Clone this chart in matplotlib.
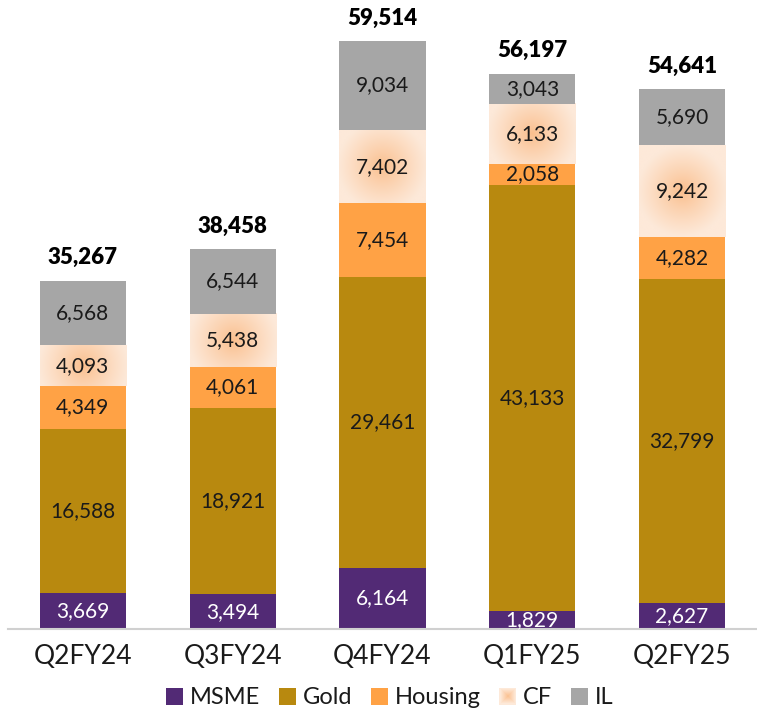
import numpy as np
import matplotlib
matplotlib.use("Agg")
from matplotlib import pyplot as plt
from matplotlib.patches import Rectangle, Patch
from matplotlib.legend_handler import HandlerPatch

plt.rcParams['font.family'] = ['Lato', 'DejaVu Sans']

quarters = ['Q2FY24', 'Q3FY24', 'Q4FY24', 'Q1FY25', 'Q2FY25']
msme = [3669, 3494, 6164, 1829, 2627]
gold = [16588, 18921, 29461, 43133, 32799]
housing = [4349, 4061, 7454, 2058, 4282]
cf = [4093, 5438, 7402, 6133, 9242]
il = [6568, 6544, 9034, 3043, 5690]
totals = [35267, 38458, 59514, 56197, 54641]

c_msme = '#522a75'
c_gold = '#b8890f'
c_housing = '#ffa245'
c_il = '#a6a6a6'
cf_center = np.array([250, 190, 140]) / 255
cf_edge = np.array([253, 233, 217]) / 255

fig = plt.figure(figsize=(7.57, 7.11), dpi=100)
ax = fig.add_axes([8 / 757, 82 / 711, 749 / 757, 629 / 711])

x = np.arange(len(quarters))
w = 0.575
lab_fs = 15

def cf_image(h_ratio):
    ny, nx = 60, 60
    yy, xx = np.mgrid[-1:1:ny * 1j, -1:1:nx * 1j]
    d = np.sqrt(xx ** 2 + (yy * h_ratio) ** 2)
    t = np.clip(d / 1.05, 0, 1) ** 0.85
    img = cf_center[None, None, :] * (1 - t[..., None]) + cf_edge[None, None, :] * t[..., None]
    return img

bottom = np.zeros(len(quarters))
for vals, col, name in [(msme, c_msme, 'MSME'), (gold, c_gold, 'Gold'), (housing, c_housing, 'Housing')]:
    ax.bar(x, vals, w, bottom=bottom, color=col, zorder=2)
    for i, v in enumerate(vals):
        ax.text(x[i], bottom[i] + v / 2, f'{v:,}', ha='center', va='center', fontsize=lab_fs,
                color='white' if name == 'MSME' else '#1a1a1a', zorder=5)
    bottom += np.array(vals)

# CF with radial gradient fill
for i, v in enumerate(cf):
    px_h = v * 0.00988
    px_w = 87
    ax.imshow(cf_image(px_h / px_w), extent=(x[i] - w / 2, x[i] + w / 2, bottom[i], bottom[i] + v),
              aspect='auto', zorder=2, interpolation='bilinear')
    ax.text(x[i], bottom[i] + v / 2, f'{v:,}', ha='center', va='center', fontsize=lab_fs, color='#1a1a1a', zorder=5)
bottom += np.array(cf)

ax.bar(x, il, w, bottom=bottom, color=c_il, zorder=2)
for i, v in enumerate(il):
    ax.text(x[i], bottom[i] + v / 2, f'{v:,}', ha='center', va='center', fontsize=lab_fs, color='#1a1a1a', zorder=5)
bottom += np.array(il)

for i, t in enumerate(totals):
    ax.annotate(f'{t:,}', (x[i], bottom[i]), xytext=(0, 9), textcoords='offset points',
                ha='center', va='bottom', fontsize=16, fontweight='heavy', color='black')

ax.set_xlim(-0.5, 4.5)
ax.set_ylim(0, 63660)
ax.set_yticks([])
ax.set_xticks(x)
ax.set_xticklabels(quarters, fontsize=19, color='#1a1a1a')
ax.tick_params(axis='x', length=0, pad=11)
for s in ['top', 'left', 'right']:
    ax.spines[s].set_visible(False)
ax.spines['bottom'].set_color('#d0d0d0')
ax.spines['bottom'].set_linewidth(1.5)
ax.patch.set_alpha(0)


class GradientHandler(HandlerPatch):
    def create_artists(self, legend, orig_handle, xdescent, ydescent, width, height, fontsize, trans):
        side = height * 1.0
        x0 = -xdescent + (width - side) / 2
        y0 = -ydescent + (height - side) / 2
        arts = []
        n = 8
        for k in range(n):
            f = 1 - k / n
            col = cf_center * (1 - f) + cf_edge * f
            s = side * (1 - k / n)
            r = Rectangle((x0 + (side - s) / 2, y0 + (side - s) / 2), s, s, facecolor=col,
                          edgecolor='none', transform=trans)
            arts.append(r)
        return arts


class SquareHandler(HandlerPatch):
    def create_artists(self, legend, orig_handle, xdescent, ydescent, width, height, fontsize, trans):
        side = height * 1.0
        r = Rectangle((-xdescent + (width - side) / 2, -ydescent + (height - side) / 2), side, side,
                      facecolor=orig_handle.get_facecolor(), edgecolor='none', transform=trans)
        return [r]


handles = [Patch(color=c_msme), Patch(color=c_gold), Patch(color=c_housing),
           Patch(color=tuple(cf_edge)), Patch(color=c_il)]
labels = ['MSME', 'Gold', 'Housing', 'CF', 'IL']
hmap = {h: SquareHandler() for h in handles}
hmap[handles[3]] = GradientHandler()
fig.legend(handles, labels, handler_map=hmap, loc='center', bbox_to_anchor=(0.515, 13 / 711),
           ncol=5, frameon=False, fontsize=17, handlelength=0.7, handletextpad=0.3,
           columnspacing=0.8, labelcolor='#1a1a1a')

fig.savefig('out.png', dpi=100)
